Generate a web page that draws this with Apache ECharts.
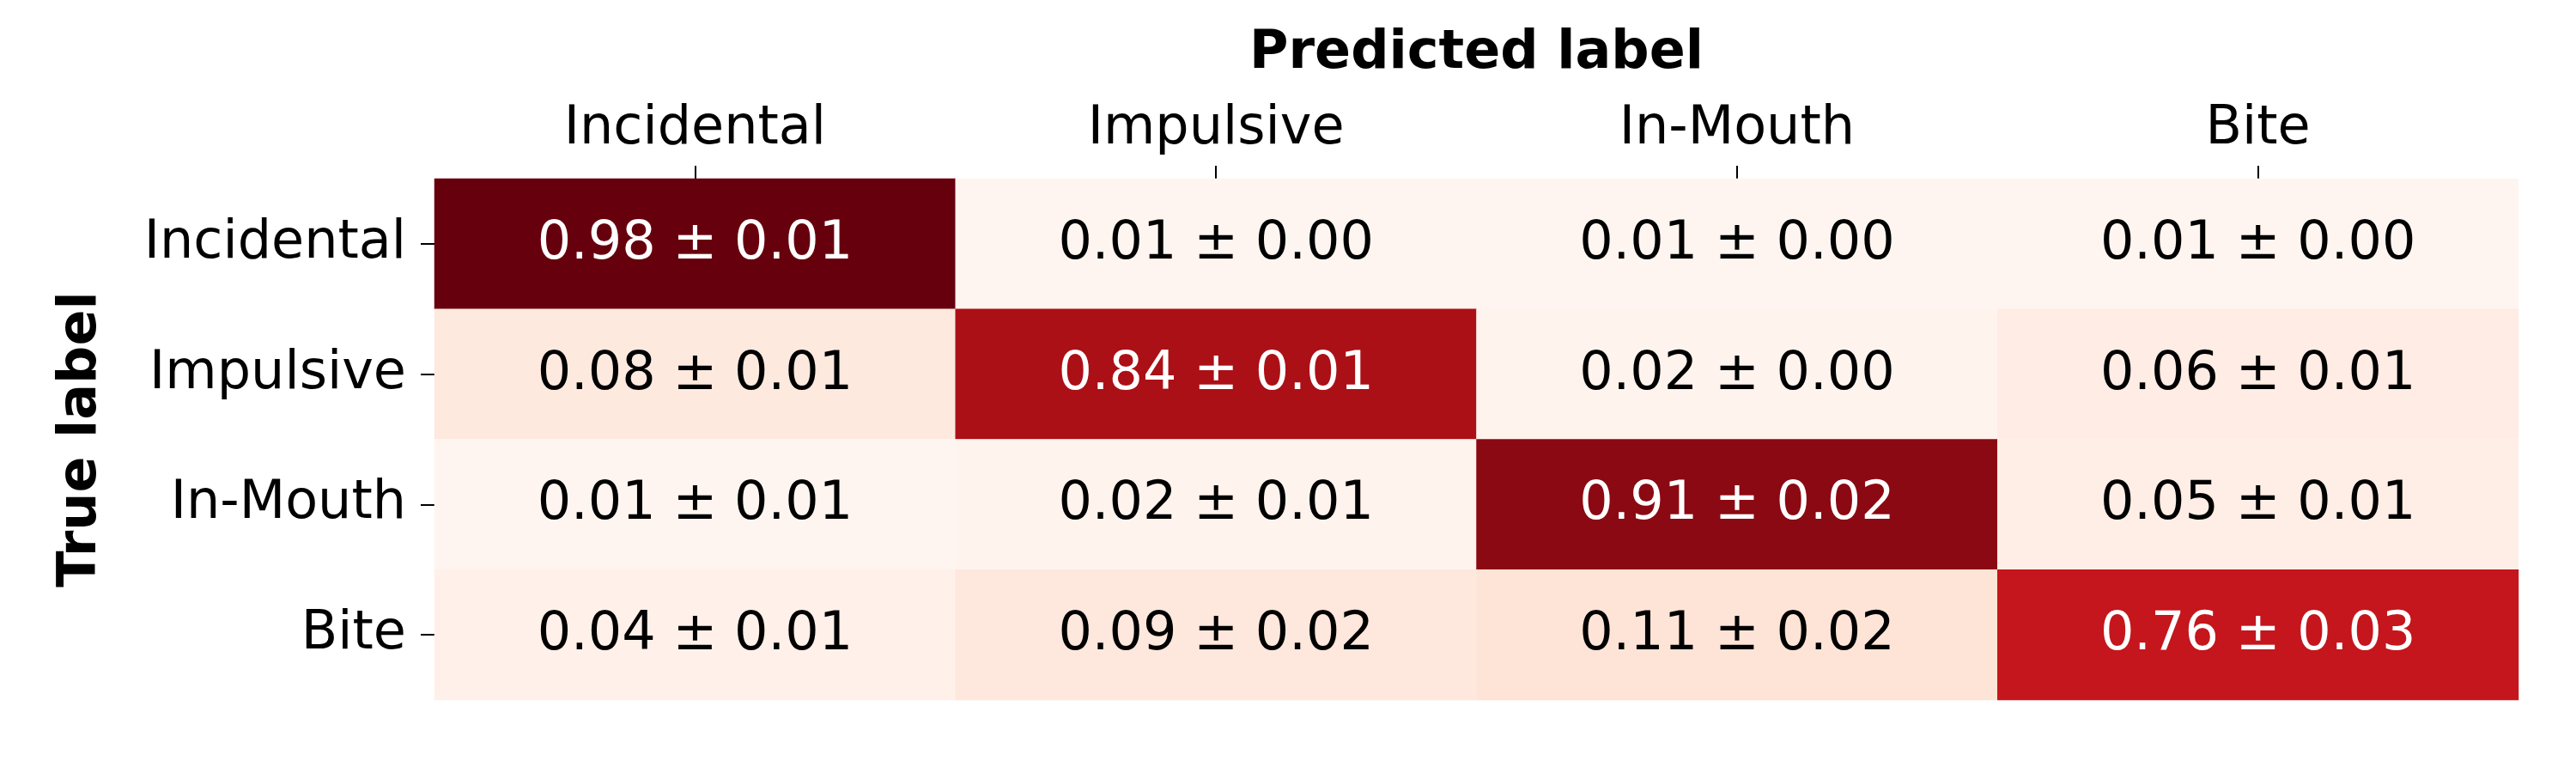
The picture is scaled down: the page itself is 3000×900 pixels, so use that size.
<!DOCTYPE html>
<html>
<head>
<meta charset="utf-8">
<script src="https://cdn.jsdelivr.net/npm/echarts@6/dist/echarts.min.js"></script>
<style>
  html, body { margin: 0; padding: 0; background: #fff; }
  #chart { width: 3000px; height: 900px; }
</style>
</head>
<body>
<div id="chart"></div>
<script>
// class names, rows = true label, columns = predicted label
const trueLabels = ['Incidental', 'Impulsive', 'In-Mouth', 'Bite'];
const predLabels = ['Incidental', 'Impulsive', 'In-Mouth', 'Bite'];

// mean and std of the normalised confusion matrix, row by row
const meanValues = [
  [0.98, 0.01, 0.01, 0.01],
  [0.08, 0.84, 0.02, 0.06],
  [0.01, 0.02, 0.91, 0.05],
  [0.04, 0.09, 0.11, 0.76]
];
const stdValues = [
  [0.01, 0.00, 0.00, 0.00],
  [0.01, 0.01, 0.00, 0.01],
  [0.01, 0.01, 0.02, 0.01],
  [0.01, 0.02, 0.02, 0.03]
];

// matplotlib "Reds"
const reds = ['#fff5f0', '#fee0d2', '#fcbba1', '#fc9272', '#fb6a4a',
              '#ef3b2c', '#cb181d', '#a50f15', '#67000d'];

const font = '"DejaVu Sans", sans-serif';
const flat = meanValues.flat();
const vmin = Math.min(...flat);
const vmax = Math.max(...flat);

const cells = [];
meanValues.forEach((row, i) => {
  row.forEach((v, j) => {
    cells.push({
      value: [j, i, v],
      label: { color: v > 0.5 ? '#ffffff' : '#000000' }
    });
  });
});

const chart = echarts.init(document.getElementById('chart'), null, { renderer: 'canvas' });
chart.setOption({
  backgroundColor: '#ffffff',
  animation: false,
  grid: { left: 506, top: 208, width: 2427, height: 607 },
  xAxis: {
    type: 'category',
    position: 'top',
    data: predLabels,
    name: 'Predicted label',
    nameLocation: 'middle',
    nameGap: 114,
    nameTextStyle: { fontFamily: font, fontSize: 62, fontWeight: 'bold', color: '#000' },
    axisLine: { show: false },
    axisTick: { show: true, alignWithLabel: true, length: 15, lineStyle: { color: '#000', width: 2 } },
    axisLabel: { fontFamily: font, fontSize: 62, color: '#000', margin: 26 },
    splitLine: { show: false }
  },
  yAxis: {
    type: 'category',
    inverse: true,
    data: trueLabels,
    name: 'True label',
    nameLocation: 'middle',
    nameRotate: 90,
    nameGap: 380,
    nameTextStyle: { fontFamily: font, fontSize: 62, fontWeight: 'bold', color: '#000' },
    axisLine: { show: false },
    axisTick: { show: true, alignWithLabel: true, length: 16, lineStyle: { color: '#000', width: 2 } },
    axisLabel: { fontFamily: font, fontSize: 62, color: '#000', margin: 33, padding: [14, 0, 0, 0] },
    splitLine: { show: false }
  },
  visualMap: {
    show: false,
    min: vmin,
    max: vmax,
    dimension: 2,
    inRange: { color: reds }
  },
  series: [{
    type: 'heatmap',
    data: cells,
    itemStyle: { borderWidth: 0 },
    label: {
      show: true,
      fontFamily: font,
      fontSize: 62,
      offset: [0, 1],
      formatter: p => {
        const i = p.value[1], j = p.value[0];
        return meanValues[i][j].toFixed(2) + ' \u00b1 ' + stdValues[i][j].toFixed(2);
      }
    },
    emphasis: { disabled: true }
  }]
});
</script>
</body>
</html>
